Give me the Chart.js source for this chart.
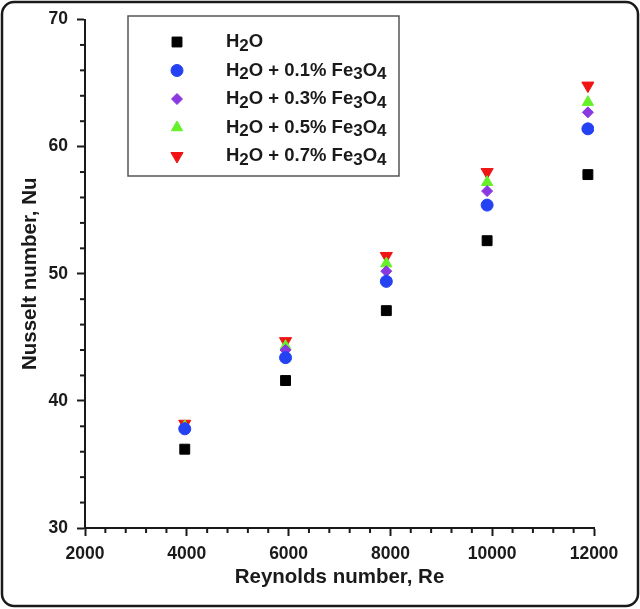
<!DOCTYPE html>
<html>
<head>
<meta charset="utf-8">
<title>Nusselt number vs Reynolds number</title>
<script src="https://cdn.jsdelivr.net/npm/chart.js@4.4.1/dist/chart.umd.min.js"></script>
<style>
  html, body { margin: 0; padding: 0; background: #fff; }
  #wrap { width: 640px; height: 609px; position: relative; }
</style>
</head>
<body>
<div id="wrap"><canvas id="nuChart"></canvas></div>
<script>
// Reynolds number of each run
const reynolds = [3960, 5940, 7920, 9900, 11880];

// Nusselt number per fluid
const nuWater = [36.2, 41.6, 47.1, 52.6, 57.8];
const nuFe01 = [37.8, 43.4, 49.4, 55.4, 61.4];
const nuFe03 = [37.9, 44.0, 50.2, 56.5, 62.7];
const nuFe05 = [38.0, 44.3, 50.8, 57.2, 63.5];
const nuFe07 = [38.2, 44.7, 51.4, 58.0, 64.8];

const seriesLabels = ['H₂O', 'H₂O + 0.1% Fe₃O₄', 'H₂O + 0.3% Fe₃O₄', 'H₂O + 0.5% Fe₃O₄', 'H₂O + 0.7% Fe₃O₄'];

const xTicks = [2000, 4000, 6000, 8000, 10000, 12000];
const yTicks = [30, 40, 50, 60, 70];
const xMinorStep = 400;
const yMinorStep = 2;

const FONT = "'Liberation Sans', Arial, sans-serif";
const INK = '#1a1a1a';

function toPoints(ys) {
  return reynolds.map((re, i) => ({ x: re, y: ys[i] }));
}

const seriesStyles = [
  { color: '#000000', style: 'rect', radius: 7, rotation: 0 },
  { color: '#2441f2', style: 'circle', radius: 6, rotation: 0 },
  { color: '#8a38e0', style: 'rectRot', radius: 5.5, rotation: 0 },
  { color: '#66f02a', style: 'triangle', radius: 6.5, rotation: 0 },
  { color: '#f01414', style: 'triangle', radius: 7, rotation: 180 }
];

const allSeries = [nuWater, nuFe01, nuFe03, nuFe05, nuFe07];

const datasets = allSeries.map((ys, i) => ({
  label: seriesLabels[i],
  data: toPoints(ys),
  backgroundColor: seriesStyles[i].color,
  borderColor: seriesStyles[i].color,
  borderWidth: 1,
  pointStyle: seriesStyles[i].style,
  pointRadius: seriesStyles[i].radius,
  pointRotation: seriesStyles[i].rotation,
  showLine: false
}));

// rounded frame around the whole figure
const framePlugin = {
  id: 'frame',
  afterDraw(chart) {
    const ctx = chart.ctx;
    ctx.save();
    ctx.strokeStyle = INK;
    ctx.lineWidth = 2.5;
    ctx.beginPath();
    ctx.roundRect(2, 2, chart.width - 4, chart.height - 5, 12);
    ctx.stroke();
    ctx.restore();
  }
};

// minor ticks on both axes, drawn outward as small bars
const minorTicks = {
  id: 'minorTicks',
  afterDatasetsDraw(chart) {
    const ctx = chart.ctx;
    const xs = chart.scales.x, ys = chart.scales.y;
    const area = chart.chartArea;
    ctx.save();
    ctx.fillStyle = INK;
    const nx = Math.round((xs.max - xs.min) / xMinorStep);
    for (let i = 1; i < nx; i++) {
      if (i % 5 === 0) continue;
      const px = xs.getPixelForValue(xs.min + i * xMinorStep);
      ctx.fillRect(px - 1, area.bottom, 2, 5);
    }
    const ny = Math.round((ys.max - ys.min) / yMinorStep);
    for (let i = 1; i < ny; i++) {
      if (i % 5 === 0) continue;
      const py = ys.getPixelForValue(ys.min + i * yMinorStep);
      ctx.fillRect(area.left - 5, py - 1, 5, 2);
    }
    ctx.restore();
  }
};

// boxed legend inside the plot, with lowered subscript digits
const SUBS = '₀₁₂₃₄₅₆₇₈₉';
function drawRich(ctx, text, x, y) {
  let cx = x;
  for (const ch of text) {
    const k = SUBS.indexOf(ch);
    if (k >= 0) {
      ctx.font = 'bold 17px ' + FONT;
      ctx.fillText(String(k), cx, y + 4);
      cx += ctx.measureText(String(k)).width;
    } else {
      ctx.font = 'bold 18.5px ' + FONT;
      ctx.fillText(ch, cx, y);
      cx += ctx.measureText(ch).width;
    }
  }
}

const boxLegend = {
  id: 'boxLegend',
  afterDraw(chart) {
    const ctx = chart.ctx;
    const area = chart.chartArea;
    const bx = area.left + 43, by = 16, bw = 271, bh = 160;
    ctx.save();
    ctx.fillStyle = '#fff';
    ctx.fillRect(bx, by, bw, bh);
    ctx.strokeStyle = '#555';
    ctx.lineWidth = 1.5;
    ctx.strokeRect(bx, by, bw, bh);
    ctx.textBaseline = 'middle';
    chart.data.datasets.forEach((ds, i) => {
      const cy = by + 26 + i * 28.5;
      ctx.fillStyle = ds.backgroundColor;
      ctx.strokeStyle = ds.borderColor;
      ctx.lineWidth = 1;
      Chart.helpers.drawPoint(ctx, {
        pointStyle: ds.pointStyle,
        radius: ds.pointRadius,
        rotation: ds.pointRotation,
        borderWidth: 1
      }, bx + 49, cy);
      ctx.fillStyle = INK;
      drawRich(ctx, ds.label, bx + 98, cy);
    });
    ctx.restore();
  }
};

const tickFont = { family: FONT, size: 17.5, weight: 'bold' };
const titleFont = { family: FONT, size: 20.5, weight: 'bold', lineHeight: 1.2 };

new Chart(document.getElementById('nuChart'), {
  type: 'scatter',
  data: { datasets: datasets },
  options: {
    responsive: true,
    maintainAspectRatio: false,
    animation: false,
    layout: { padding: { left: 0, right: 46, top: 19, bottom: 0 } },
    plugins: {
      legend: { display: false },
      tooltip: { enabled: true }
    },
    scales: {
      x: {
        type: 'linear',
        min: 2000,
        max: 12000,
        afterFit(scale) { scale.height = 81; },
        afterBuildTicks(scale) { scale.ticks = xTicks.map(v => ({ value: v })); },
        border: { display: true, color: INK, width: 2 },
        grid: { drawOnChartArea: false, drawTicks: true, tickLength: 8, tickColor: INK, tickWidth: 2 },
        ticks: { font: tickFont, color: INK, padding: 8, maxRotation: 0, callback: v => String(v) },
        title: { display: true, text: 'Reynolds number, Re', font: titleFont, color: INK, padding: { top: 0, bottom: 19 } }
      },
      y: {
        type: 'linear',
        min: 30,
        max: 70,
        afterFit(scale) { scale.width = 85; },
        afterBuildTicks(scale) { scale.ticks = yTicks.map(v => ({ value: v })); },
        border: { display: true, color: INK, width: 2 },
        grid: { drawOnChartArea: false, drawTicks: true, tickLength: 8, tickColor: INK, tickWidth: 2 },
        ticks: { font: tickFont, color: INK, padding: 9, callback: v => String(v) },
        title: { display: true, text: 'Nusselt number, Nu', font: titleFont, color: INK, padding: { top: 18, bottom: 0 } }
      }
    }
  },
  plugins: [minorTicks, boxLegend, framePlugin]
});
</script>
</body>
</html>
